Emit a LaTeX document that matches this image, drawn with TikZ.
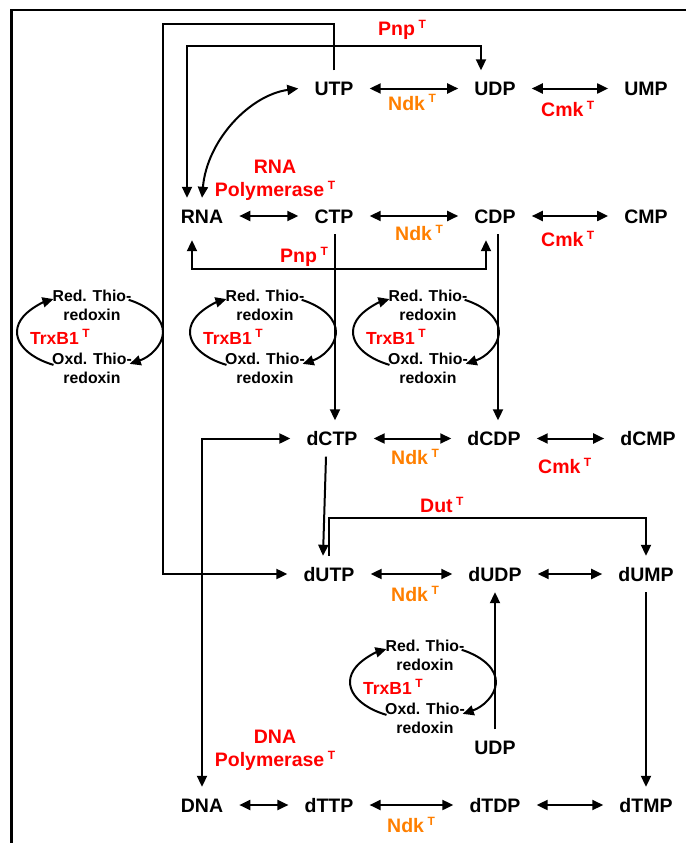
\documentclass[tikz,border=0pt]{standalone}
\usepackage{fontspec}
\setmainfont{Liberation Sans}
\usetikzlibrary{arrows.meta,calc}
\definecolor{cEnz}{HTML}{FF0000}
\definecolor{cNdk}{HTML}{FF7F00}
\definecolor{lineDark}{HTML}{000000}
\newcommand{\supT}{%
  \hspace{3.5pt}\raisebox{7pt}{\fontsize{12}{12}\selectfont T}%
}
\tikzset{
  met node/.style ={font=\bfseries\fontsize{19.5}{22}\selectfont,
                    text height=14pt,text depth=0pt,
                    inner xsep=16pt,inner ysep=11pt},
  enz label/.style={font=\bfseries\fontsize{19.5}{23}\selectfont,
                    text=cEnz,inner sep=0pt,anchor=base west},
  ndk label/.style={enz label,text=cNdk},
  trx text/.style ={font=\bfseries\fontsize{15.8}{19}\selectfont,
                    align=center,inner sep=0pt,anchor=north},
  link/.style     ={draw=lineDark,line width=2pt,
                    -{Triangle[length=11pt,width=10pt]}},
  both link/.style={draw=lineDark,line width=2pt,
                    {Triangle[length=11pt,width=10pt]}-{Triangle[length=11pt,width=10pt]}},
}
\newcommand{\trxCycle}[3]{%
  \begin{scope}[shift={(#2,#3)}]
    \node[trx text] (#1red) at (0,-46) {Red. Thio-\\redoxin};
    \node[trx text] (#1oxd) at (0,17)  {Oxd. Thio-\\redoxin};
    \node[enz label,font=\bfseries\fontsize{17.5}{20}\selectfont]
          (#1trx) at (-62,8) {TrxB1\supT};
    \coordinate (#1mid) at (-2,-4);
    \draw[link] (#1mid) ++(240:73pt and 38pt)
          arc[start angle=240,end angle=120,x radius=73pt,y radius=38pt];
    \draw[link] (#1mid) ++(58:73pt and 38pt)
          arc[start angle=58,end angle=-57,x radius=73pt,y radius=38pt];
  \end{scope}%
}

\begin{document}
\begin{tikzpicture}[x=1pt,y=-1pt]
  \useasboundingbox (0,0) rectangle (686,843);
  \draw[lineDark,line width=2.8pt] (11.3,843) -- (11.3,10) -- (686,10);
  % ribo row
  \node[met node] (UTP)  at (334,88.5) {UTP};
  \node[met node] (UDP)  at (495,88.5) {UDP};
  \node[met node] (UMP)  at (646,88.5) {UMP};
  \node[met node] (RNA)  at (202,216)  {RNA};
  \node[met node] (CTP)  at (334,216)  {CTP};
  \node[met node] (CDP)  at (495,216)  {CDP};
  \node[met node] (CMP)  at (646,216)  {CMP};
  % deoxy rows
  \node[met node] (dCTP) at (332,438.5) {dCTP};
  \node[met node] (dCDP) at (494,438.5) {dCDP};
  \node[met node] (dCMP) at (648,438.5) {dCMP};
  \node[met node] (dUTP) at (329,574)   {dUTP};
  \node[met node] (dUDP) at (495,574)   {dUDP};
  \node[met node] (dUMP) at (646,574)   {dUMP};
  \node[met node] (UDPb) at (495,747.5) {UDP};
  \node[met node] (DNA)  at (202,805)   {DNA};
  \node[met node] (dTTP) at (329,805)   {dTTP};
  \node[met node] (dTDP) at (495,805)   {dTDP};
  \node[met node] (dTMP) at (646,805)   {dTMP};
  \foreach \a/\b in {UTP/UDP,UDP/UMP,RNA/CTP,CTP/CDP,CDP/CMP,
                     dCTP/dCDP,dCDP/dCMP,dUTP/dUDP,dUDP/dUMP,
                     DNA/dTTP,dTTP/dTDP,dTDP/dTMP}
    \draw[both link] (\a) -- (\b);
  % enzymes
  \node[enz label] (pnpA) at (378,36)  {Pnp\supT};
  \node[ndk label] (ndkA) at (388,110) {Ndk\supT};
  \node[enz label] (cmkA) at (541,116) {Cmk\supT};
  \node[enz label,anchor=center,align=center] (rnaPol) at (275,180)
        {RNA\\Polymerase\supT};
  \node[enz label] (pnpB) at (280,262) {Pnp\supT};
  \node[ndk label] (ndkB) at (395,240) {Ndk\supT};
  \node[enz label] (cmkB) at (541,246) {Cmk\supT};
  \node[ndk label] (ndkC) at (391,464) {Ndk\supT};
  \node[enz label] (cmkC) at (538,473) {Cmk\supT};
  \node[enz label] (dutA) at (420,512) {Dut\supT};
  \node[ndk label] (ndkD) at (391,601) {Ndk\supT};
  \node[enz label,anchor=center,align=center] (dnaPol) at (275,750)
        {DNA\\Polymerase\supT};
  \node[ndk label] (ndkE) at (387,832) {Ndk\supT};
  % long connectors
  \coordinate (loopTop) at (163,24);
  \coordinate (pnpTop)  at (300,46);
  \coordinate (pnpLow)  at (300,269);
  \coordinate (dutTop)  at (500,518);
  \draw[link] (UTP.north) |- (loopTop) |- (dUTP.west);
  \draw[both link] ([xshift=-15pt]RNA.north) |- (pnpTop) -| ([xshift=-14pt]UDP.north);
  \draw[both link] (RNA.north) .. controls (207,140) and (250,95) .. (UTP.west);
  \draw[both link] ([xshift=-10pt,yshift=-6pt]RNA.south) |- (pnpLow)
        -| ([xshift=-9pt,yshift=-6pt]CDP.south);
  \draw[link] ([xshift=1pt]CTP.south) -- ([xshift=3pt]dCTP.north);
  \draw[link] ([xshift=3pt]CDP.south) -- ([xshift=4pt]dCDP.north);
  \draw[link] ([xshift=-6pt]dCTP.south) -- ([xshift=-6pt]dUTP.north);
  \draw[link] (dUTP.north) |- (dutTop) -| (dUMP.north);
  \draw[both link] (dCTP.west) -| (DNA.north);
  \draw[link] (dUMP.south) -- (dTMP.north);
  \draw[link] (UDPb.north) -- (dUDP.south);
  % thioredoxin cycles
  \trxCycle{trxA}{92}{336}
  \trxCycle{trxB}{265}{336}
  \trxCycle{trxC}{428}{336}
  \trxCycle{trxD}{425}{686}
\end{tikzpicture}
\end{document}
